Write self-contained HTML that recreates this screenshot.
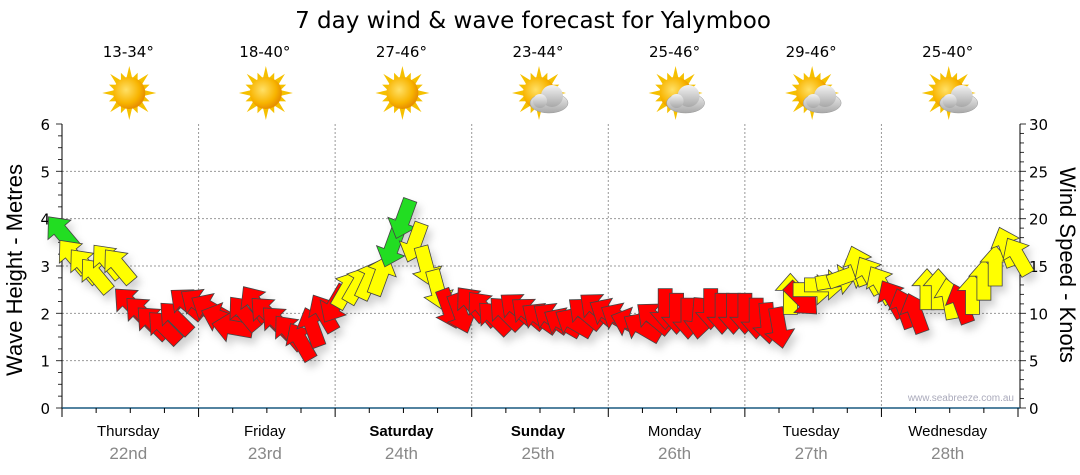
<!DOCTYPE html>
<html><head><meta charset="utf-8">
<style>
body{margin:0;background:#fff;}
svg{display:block;font-family:"Liberation Sans",sans-serif;}
</style></head>
<body>
<svg id="chart" width="1080" height="475" viewBox="0 0 1080 475" xmlns="http://www.w3.org/2000/svg">
<defs>
<radialGradient id="sunG" cx="0.4" cy="0.4" r="0.6"><stop offset="0" stop-color="#ffe066"/><stop offset="0.7" stop-color="#f8b400"/><stop offset="1" stop-color="#e89000"/></radialGradient>
<linearGradient id="cloudG" x1="0" y1="0" x2="0" y2="1"><stop offset="0" stop-color="#f2f2f2"/><stop offset="1" stop-color="#a8a8a8"/></linearGradient>
<filter id="shadow" x="-50%" y="-50%" width="200%" height="200%"><feDropShadow dx="4" dy="6" stdDeviation="4" flood-color="#000" flood-opacity="0.18"/></filter>
</defs>
<text x="533" y="28" font-size="23" text-anchor="middle" fill="#000" font-family="DejaVu Sans, sans-serif">7 day wind &amp; wave forecast for Yalymboo</text>
<g id="grid"></g>
<g id="axes"></g>
<g id="topG"></g>
<g id="arrows" filter="url(#shadow)"></g>
<text x="1014" y="401" font-size="10" text-anchor="end" fill="#aab">www.seabreeze.com.au</text>
<text transform="translate(22,270) rotate(-90)" font-size="22" text-anchor="middle">Wave Height - Metres</text>
<text transform="translate(1060,265) rotate(90)" font-size="22" text-anchor="middle">Wind Speed - Knots</text>
</svg>
<script>
const days = ["Thursday","Friday","Saturday","Sunday","Monday","Tuesday","Wednesday"];
const dates = ["22nd","23rd","24th","25th","26th","27th","28th"];
const boldDays = [false,false,true,true,false,false,false];
const temps = ["13-34°","18-40°","27-46°","23-44°","25-46°","29-46°","25-40°"];
const cloudy = [false,false,false,true,true,true,true];
const waveTicks = [0,1,2,3,4,5,6];
const windTicks = [0,5,10,15,20,25,30];
// wind every 2 hours from Thursday 00:00
const windSpeed = [18.5,16,15,14,15.5,15,11,10,9,8.5,9.5,11,
 11,10.5,9.5,8.5,10,11,10,9,8,7,8.5,10,
 11,12.5,13,13.5,14,17,20,17.5,15,12.5,10.5,10,
 11,10.5,9.5,10,10.5,10,9.5,9.5,9,9,10,10.5,
 10,9.5,9,8.5,9.5,10.5,10,9.5,9.5,10.5,10,10,
 10,9.5,9,8.5,12,11.5,12.5,13,13.5,14,15,14,
 13,11.5,10.5,10,12.5,12.5,11.5,11,12,13.5,15,17,16];
const windDir = [-40,-40,-40,-40,-40,-40,-45,-45,-45,-45,-45,-50,
 -55,-60,-70,-80,-40,-35,-45,-45,-40,-30,-20,-30,
 -150,30,30,25,20,200,200,200,165,165,160,160,
 -40,-40,-45,-45,-50,-50,-55,-55,-60,-60,-50,-50,
 -60,-60,-70,-60,-50,180,180,180,185,180,180,180,
 180,180,175,170,0,135,90,90,80,70,-20,-30,
 -30,-30,-20,-20,0,0,-10,-20,0,0,0,-20,-30];
const windColor = ["G","Y","Y","Y","Y","Y","R","R","R","R","R","R",
 "R","R","R","R","R","R","R","R","R","R","R","R",
 "R","Y","Y","Y","Y","G","G","Y","Y","Y","R","R",
 "R","R","R","R","R","R","R","R","R","R","R","R",
 "R","R","R","R","R","R","R","R","R","R","R","R",
 "R","R","R","R","Y","R","Y","Y","Y","Y","Y","Y",
 "Y","R","R","R","Y","Y","Y","R","Y","Y","Y","Y","Y"];
const colors = {G:"#22dd22",Y:"#ffff00",R:"#ff0000"};

{
const NS="http://www.w3.org/2000/svg";
const X0=62,X1=1018,Y0=408,Y1=124;
const xDay=d=>X0+(X1-X0)*d/7;
const xHour=h=>X0+(X1-X0)*h/168;
const yWave=v=>Y0-(Y0-Y1)*v/6;
const yWind=v=>Y0-(Y0-Y1)*v/30;
function mk(tag,attrs,parent){const e=document.createElementNS(NS,tag);for(const k in attrs)e.setAttribute(k,attrs[k]);parent.appendChild(e);return e;}
const gridG=document.getElementById('grid'),axesG=document.getElementById('axes'),topGroup=document.getElementById('topG'),arrowsG=document.getElementById('arrows');
const tickFont="DejaVu Sans, sans-serif";

waveTicks.forEach(v=>{
  if(v>0&&v<6){const l=mk('line',{x1:X0,x2:1020,y1:yWave(v),y2:yWave(v),stroke:'#999','stroke-dasharray':'2,2','stroke-width':1},gridG);
  
  }
  const t=mk('text',{x:50,y:yWave(v)+6,'font-size':15,'text-anchor':'end',fill:'#000','font-family':tickFont},axesG);t.textContent=v;
  
  
});
for(let i=0;i<=24;i++){const y=Y0-(Y0-Y1)*i/24;mk('line',{x1:X0,x2:X0-(i%4==0?6:4),y1:y,y2:y,stroke:'#333'},axesG);}
windTicks.forEach(v=>{
  const t=mk('text',{x:1029,y:yWind(v)+6,'font-size':15,fill:'#000','font-family':tickFont},axesG);t.textContent=v;
  
  
});
for(let i=0;i<=30;i++){const y=yWind(i);mk('line',{x1:1020,x2:1020+(i%5==0?6:4),y1:y,y2:y,stroke:'#333'},axesG);}
mk('line',{x1:X0,x2:X0,y1:Y1,y2:Y0,stroke:'#000'},axesG);
mk('line',{x1:1020,x2:1020,y1:Y1,y2:Y0,stroke:'#000'},axesG);
mk('line',{x1:X0,x2:1020,y1:Y0,y2:Y0,stroke:'#1a5a80','stroke-width':1.5},axesG);
for(let h=0;h<=168;h+=6){const x=xHour(h);mk('line',{x1:x,x2:x,y1:Y0,y2:Y0+(h%24==0?9:5),stroke:'#000'},axesG);}
days.forEach((d,i)=>{
  if(i>0){const l=mk('line',{x1:xDay(i),x2:xDay(i),y1:Y1,y2:Y0,stroke:'#999','stroke-dasharray':'2,2'},gridG);
  
  }
  const cx=xDay(i+0.5);
  const t=mk('text',{x:cx-2,y:436,'font-size':15,'text-anchor':'middle','font-weight':boldDays[i]?'bold':'normal'},axesG);t.textContent=d;
  
  
  const t2=mk('text',{x:cx-2,y:459,'font-size':17,'text-anchor':'middle',fill:'#888'},axesG);t2.textContent=dates[i];
  
  
  const tp=mk('text',{x:cx-2,y:57,'font-size':15,'text-anchor':'middle','font-family':tickFont},topGroup);tp.textContent=temps[i];
  
  
  const g=mk('g',{transform:`translate(${cx-1},93)`},topGroup);
  
  
  let pts=[];for(let k=0;k<32;k++){const a=k*Math.PI/16;const r=(k%2==0)?(k%4==0?27:22):15;pts.push((r*Math.sin(a)).toFixed(1)+','+(-r*Math.cos(a)).toFixed(1));}
  mk('polygon',{points:pts.join(' '),fill:'#f5c000'},g);
  mk('circle',{r:16,fill:'url(#sunG)'},g);
  if(cloudy[i]){
    const c=mk('g',{transform:'translate(10,6)'},g);
    mk('ellipse',{cx:0,cy:4,rx:19,ry:10,fill:'url(#cloudG)',stroke:'#999','stroke-width':0.5},c);
    mk('circle',{cx:3,cy:-3,r:11,fill:'url(#cloudG)'},c);
    mk('circle',{cx:-9,cy:2,r:7,fill:'url(#cloudG)'},c);
  }
});
const arrowPts="0,-21 15,-4 7,-4 7,20 -7,20 -7,-4 -15,-4";
windSpeed.forEach((s,i)=>{
  const x=xHour(i*2),y=yWind(s);
  const p=mk('polygon',{points:arrowPts,transform:`translate(${x.toFixed(1)},${y.toFixed(1)}) rotate(${windDir[i]})`,fill:colors[windColor[i]],stroke:'#444','stroke-width':0.8},arrowsG);
  
  
});
}
</script>
</body></html>
